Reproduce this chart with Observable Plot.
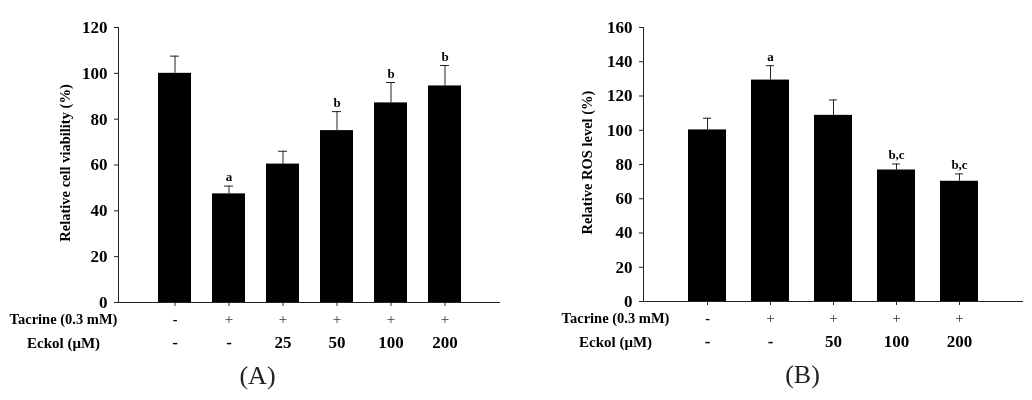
<!DOCTYPE html>
<html>
<head>
<meta charset="utf-8">
<script src="https://cdn.jsdelivr.net/npm/d3@7"></script>
<script src="https://cdn.jsdelivr.net/npm/@observablehq/plot@0.6"></script>
<style>
  html, body { margin: 0; padding: 0; background: #fff; }
  #wrap { display: flex; width: 1032px; height: 400px; }
  #wrap svg { display: block; will-change: transform; }
  #wrap svg text { font-family: "Liberation Serif", "Times New Roman", serif; }
  g[aria-label="y-axis tick label"] text { font-weight: bold; }
</style>
</head>
<body>
<div id="wrap"></div>
<script>
// ---------- Panel A: cell viability ----------
const tacrineA = ["-", "+", "+", "+", "+", "+"];
const eckolA = ["-", "-", "25", "50", "100", "200"];
const viability = [100, 47.4, 60.4, 75, 87.1, 94.5];
const viabilityErr = [7.5, 3.4, 5.6, 8.3, 8.9, 8.9];
const sigA = ["", "a", "", "b", "b", "b"];
const yTicksA = [0, 20, 40, 60, 80, 100, 120];

// ---------- Panel B: ROS level ----------
const tacrineB = ["-", "+", "+", "+", "+"];
const eckolB = ["-", "-", "50", "100", "200"];
const ros = [100.2, 129.3, 108.7, 76.8, 70.2];
const rosErr = [6.8, 8.4, 9, 3.5, 4.3];
const sigB = ["", "a", "", "b,c", "b,c"];
const yTicksB = [0, 20, 40, 60, 80, 100, 120, 140, 160];

const FONT = "'Liberation Serif', 'Times New Roman', serif";
const INK = "#222";

function panel(cfg) {
  const rows = cfg.values.map((v, i) => ({
    cat: String(i + 1),
    value: v,
    top: v + cfg.errs[i],
    sig: cfg.sig[i],
    tacrine: cfg.tacrine[i],
    eckol: cfg.eckol[i]
  }));
  const cats = rows.map(d => d.cat);
  return Plot.plot({
    width: 516,
    height: 400,
    marginLeft: cfg.marginLeft,
    marginRight: cfg.marginRight,
    marginTop: cfg.marginTop,
    marginBottom: cfg.marginBottom,
    style: { fontFamily: FONT, background: "white", color: INK, overflow: "visible" },
    x: { type: "band", domain: cats, paddingInner: 0.39, paddingOuter: 0.7, axis: null },
    y: { domain: [0, cfg.ymax], axis: null },
    marks: [
      Plot.barY(rows, { x: "cat", y: "value", fill: "black" }),
      Plot.ruleX(rows, { x: "cat", y1: "value", y2: "top", stroke: INK, strokeWidth: 1 }),
      Plot.tickY(rows, { x: "cat", y: "top", stroke: INK, strokeWidth: 1, insetLeft: cfg.capInset, insetRight: cfg.capInset }),
      Plot.text(rows, { x: "cat", y: "top", text: "sig", dy: -5, lineAnchor: "bottom", fontSize: 13, fontWeight: "bold", fill: "black" }),
      Plot.ruleY([0], { stroke: INK }),
      Plot.frame({ anchor: "left", stroke: INK }),
      Plot.axisY({ ticks: cfg.yTicks, tickSize: 4, tickPadding: 7, fontSize: 17, fontWeight: "bold", label: null, stroke: INK, fill: "black" }),
      Plot.axisX({ tickSize: 4, tickFormat: () => "", label: null, stroke: INK }),
      // y-axis title
      Plot.text([cfg.yLabel], { frameAnchor: "left", textAnchor: "middle", rotate: -90, dx: cfg.yLabelDx, dy: -2, fontSize: 14.5, fontWeight: "bold", fill: "black" }),
      // treatment rows
      Plot.text(rows.filter(d => d.tacrine === "+"), { x: "cat", frameAnchor: "bottom", text: "tacrine", dy: 21, fontSize: 15, fill: "#333" }),
      Plot.text(rows.filter(d => d.tacrine !== "+"), { x: "cat", frameAnchor: "bottom", text: "tacrine", dy: 21, fontSize: 14, fontWeight: "bold", fill: "black" }),
      Plot.text(rows, { x: "cat", frameAnchor: "bottom", text: "eckol", dy: 45, fontSize: 17, fontWeight: "bold", fill: "black" }),
      Plot.text(["Tacrine (0.3 mM)"], { frameAnchor: "bottom-left", dx: cfg.rowLabelDx, dy: 21, fontSize: 14.5, fontWeight: "bold", textAnchor: "middle", fill: "black" }),
      Plot.text(["Eckol (\u03BCM)"], { frameAnchor: "bottom-left", dx: cfg.rowLabelDx, dy: 45, fontSize: 15, fontWeight: "bold", textAnchor: "middle", fill: "black" }),
      // panel letter
      Plot.text([cfg.tag], { frameAnchor: "bottom", dx: cfg.tagDx, dy: 81, fontSize: 26, fill: "#222" })
    ]
  });
}

const wrap = document.getElementById("wrap");
wrap.appendChild(panel({
  values: viability, errs: viabilityErr, sig: sigA, tacrine: tacrineA, eckol: eckolA,
  ymax: 120, yTicks: yTicksA, yLabel: "Relative cell viability (%)",
  marginLeft: 118, marginRight: 16, marginTop: 27, marginBottom: 98,
  capInset: 12, yLabelDx: -53, rowLabelDx: -55, tag: "(A)", tagDx: -52
}));
wrap.appendChild(panel({
  values: ros, errs: rosErr, sig: sigB, tacrine: tacrineB, eckol: eckolB,
  ymax: 160, yTicks: yTicksB, yLabel: "Relative ROS level (%)",
  marginLeft: 127, marginRight: 9, marginTop: 27, marginBottom: 99,
  capInset: 15, yLabelDx: -56, rowLabelDx: -28, tag: "(B)", tagDx: -31
}));
</script>
</body>
</html>
